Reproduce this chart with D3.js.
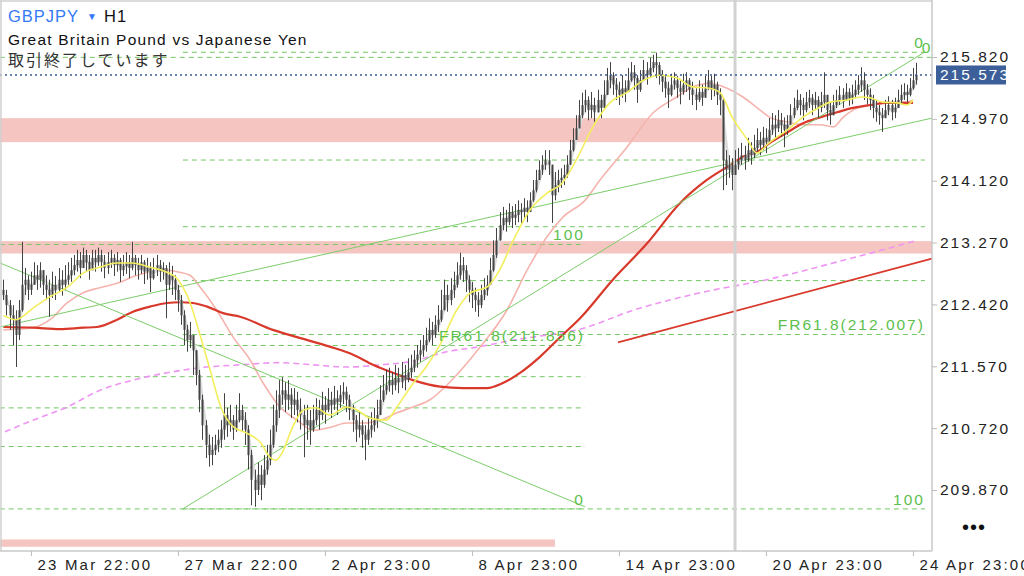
<!DOCTYPE html>
<html><head><meta charset="utf-8">
<script src="https://cdn.jsdelivr.net/npm/d3@7"></script>
<style>
html,body{margin:0;padding:0;background:#fff;}
svg{display:block;font-family:"Liberation Sans",Arial,sans-serif;}
</style></head><body>
<svg id="c" width="1024" height="576"></svg>
<script>
// ---------- DATA ----------
const firstOpen = 212.62;
const closes = [
212.55,212.41,212.27,212.21,212.00,212.34,212.69,212.76,212.62,212.69,
212.82,212.76,212.89,212.69,212.62,212.55,212.69,212.62,212.76,212.69,212.76,212.82,212.89,
212.96,213.03,212.92,213.10,213.00,212.89,213.06,213.00,213.10,213.00,
212.92,213.00,213.06,212.96,213.03,212.89,212.95,213.00,212.92,213.06,
212.96,212.89,213.00,212.87,212.92,212.78,212.89,212.96,212.87,212.92,212.69,212.82,212.76,
212.62,212.48,212.27,212.07,211.93,212.00,211.79,
211.45,211.11,210.76,210.49,210.35,210.42,
210.49,210.56,210.70,210.90,210.76,210.83,210.70,210.83,210.97,210.83,210.70,
210.35,210.01,209.87,210.08,209.94,210.15,210.28,
210.49,210.76,210.97,211.18,211.24,211.11,211.18,211.04,
211.11,210.97,210.90,210.76,210.83,210.70,210.83,
210.97,210.90,211.04,210.97,211.11,211.04,211.13,211.08,211.18,211.22,211.11,
210.97,210.83,210.70,210.76,210.63,210.56,210.70,210.76,210.83,210.90,
211.11,211.24,211.31,211.38,211.31,211.41,211.35,211.45,211.38,211.49,211.55,
211.66,211.73,211.79,211.86,211.93,212.07,212.00,212.14,212.21,212.34,212.55,
212.48,212.62,212.69,212.82,212.96,212.89,212.76,212.62,212.55,212.48,212.41,212.55,212.62,212.69,
212.89,213.10,213.30,213.51,213.61,213.55,213.69,213.61,213.65,213.72,213.69,213.75,213.69,
213.85,213.99,214.13,214.27,214.34,214.40,214.34,213.92,214.06,214.13,214.16,214.20,
214.34,214.54,214.68,214.84,215.02,215.16,215.23,215.09,215.16,215.06,215.23,215.12,215.30,215.50,215.57,
215.44,215.37,215.30,215.39,215.34,215.50,215.61,215.53,215.37,215.50,215.64,215.57,215.67,
215.75,215.71,215.57,215.48,215.39,215.30,215.44,215.50,215.39,215.34,215.44,215.50,215.37,
215.30,215.23,215.34,215.26,215.39,215.50,215.37,215.44,215.30,215.23,214.40,214.27,214.34,214.20,
214.34,214.40,214.47,214.40,214.54,214.47,214.57,214.68,214.61,214.71,214.65,214.82,214.89,214.84,214.95,214.89,214.82,
214.89,215.02,215.12,215.23,215.16,215.09,215.20,215.26,215.16,215.23,215.12,215.20,215.30,215.09,215.02,215.16,
215.23,215.30,215.23,215.34,215.26,215.30,215.37,215.44,215.50,215.37,215.30,215.23,215.12,215.06,
215.02,214.98,215.09,215.16,215.06,215.12,215.23,215.30,215.34,215.30,215.39,215.50,215.573
];
const highs = [
212.76,212.62,212.48,212.41,212.34,212.48,213.28,212.92,212.82,212.87,
213.00,212.96,213.00,212.89,212.82,212.76,212.87,212.81,212.92,212.89,212.96,213.00,213.06,
213.10,213.17,213.14,213.20,213.17,213.10,213.17,213.17,213.20,213.17,
213.10,213.14,213.17,213.11,213.14,213.06,213.10,213.14,213.10,213.28,
213.10,213.06,213.10,213.03,213.06,213.00,213.06,213.10,213.03,213.00,212.96,213.00,212.95,
212.82,212.69,212.55,212.34,212.14,212.18,212.00,
211.79,211.52,211.18,210.83,210.63,210.60,
210.63,210.70,210.83,211.20,211.00,211.04,210.90,211.04,211.20,211.04,210.94,
210.76,210.42,210.15,210.25,210.21,210.35,210.49,
210.70,211.04,211.24,211.38,211.42,211.35,211.38,211.27,
211.27,211.22,211.13,211.04,211.04,210.97,211.04,
211.13,211.11,211.22,211.16,211.27,211.22,211.30,211.24,211.31,211.35,211.29,
211.18,211.04,210.90,210.94,210.83,210.76,210.86,210.94,211.00,211.11,
211.31,211.45,211.52,211.55,211.49,211.59,211.55,211.63,211.59,211.68,211.73,
211.79,211.86,211.93,212.00,212.10,212.23,212.18,212.27,212.41,212.62,212.76,
212.69,212.78,212.87,213.00,213.13,213.07,212.96,212.82,212.73,212.65,212.59,212.69,212.78,212.82,
213.06,213.30,213.47,213.69,213.76,213.72,213.81,213.77,213.80,213.85,213.81,213.88,213.85,
213.96,214.13,214.27,214.40,214.47,214.54,214.54,214.34,214.24,214.27,214.29,214.34,
214.47,214.68,214.84,215.02,215.23,215.33,215.37,215.28,215.34,215.26,215.37,215.30,215.50,215.67,215.75,
215.61,215.53,215.48,215.57,215.50,215.67,215.75,215.71,215.57,215.64,215.78,215.75,215.81,
215.85,215.88,215.75,215.64,215.57,215.48,215.59,215.61,215.56,215.50,215.59,215.61,215.53,
215.48,215.39,215.50,215.44,215.56,215.64,215.56,215.59,215.48,215.39,215.26,214.54,214.47,214.43,
214.54,214.57,214.64,214.60,214.71,214.65,214.75,214.84,214.79,214.86,214.84,214.98,215.05,215.02,215.09,215.05,214.99,
215.02,215.17,215.26,215.37,215.31,215.26,215.34,215.37,215.31,215.34,215.28,215.34,215.61,215.30,215.20,215.30,
215.37,215.42,215.39,215.46,215.39,215.44,215.50,215.57,215.68,215.61,215.45,215.39,215.30,215.23,
215.16,215.12,215.23,215.28,215.23,215.26,215.37,215.44,215.46,215.44,215.53,215.67,215.74
];
const lows = [
212.48,212.27,212.07,211.86,211.56,211.93,212.32,212.55,212.48,212.55,
212.69,212.62,212.65,212.55,212.48,212.25,212.51,212.48,212.59,212.54,212.62,212.69,212.73,
212.82,212.87,212.78,212.92,212.87,212.76,212.89,212.87,212.95,212.87,
212.78,212.84,212.92,212.81,212.87,212.73,212.81,212.84,212.78,212.89,
212.82,212.76,212.84,212.70,212.76,212.59,212.76,212.81,212.73,212.76,212.23,212.62,212.55,
212.48,212.32,212.14,211.86,211.77,211.82,211.45,
211.31,210.94,210.56,210.31,210.19,210.21,
210.35,210.39,210.45,210.56,210.60,210.67,210.56,210.67,210.80,210.67,210.49,
210.15,209.66,209.64,209.80,209.73,209.90,210.08,
210.21,210.45,210.67,210.86,211.04,210.94,210.97,210.86,
210.90,210.80,210.70,210.32,210.56,210.49,210.67,
210.76,210.70,210.83,210.78,210.94,210.86,210.97,210.90,211.00,211.05,210.94,
210.83,210.67,210.53,210.59,210.45,210.28,210.49,210.59,210.67,210.72,
210.97,211.08,211.18,211.22,211.18,211.24,211.20,211.27,211.24,211.35,211.41,
211.49,211.55,211.63,211.70,211.77,211.90,211.86,211.96,212.04,212.18,212.34,
212.32,212.41,212.51,212.65,212.76,212.73,212.59,212.45,212.37,212.32,212.25,212.37,212.48,212.54,
212.69,212.87,213.06,213.33,213.44,213.42,213.51,213.47,213.51,213.55,213.52,213.58,213.55,
213.72,213.83,213.96,214.13,214.20,214.27,214.20,213.54,213.85,213.96,214.02,214.06,
214.16,214.38,214.52,214.68,214.89,214.98,215.06,214.95,214.98,214.93,215.06,214.98,215.12,215.34,215.39,
215.30,215.23,215.16,215.26,215.20,215.34,215.48,215.37,215.19,215.34,215.50,215.44,215.53,
215.61,215.53,215.44,215.34,215.26,215.12,215.28,215.37,215.26,215.17,215.30,215.34,215.23,
215.16,215.09,215.20,215.15,215.26,215.37,215.23,215.28,215.16,215.02,213.99,214.06,214.16,213.99,
214.20,214.27,214.34,214.27,214.38,214.34,214.43,214.52,214.47,214.54,214.50,214.68,214.75,214.71,214.79,214.72,214.58,
214.75,214.89,214.98,215.09,215.02,214.95,215.06,215.12,215.02,215.09,214.98,215.06,215.12,214.95,214.89,215.02,
215.12,215.16,215.12,215.23,215.15,215.17,215.26,215.30,215.34,215.23,215.17,215.09,214.98,214.93,
214.89,214.79,214.98,215.02,214.95,214.98,215.12,215.17,215.23,215.20,215.28,215.37,215.44
];

const xTickIndex = [9, 57, 105, 153, 201, 249, 297];
const xTickLabels = ["23 Mar 22:00","27 Mar 22:00","2 Apr 23:00","8 Apr 23:00","14 Apr 23:00","20 Apr 23:00","24 Apr 23:00"];
const yTicks = [215.820, 214.970, 214.120, 213.270, 212.420, 211.570, 210.720, 209.870];
const lastPrice = 215.573;

// moving averages: [bar index, price]
const maYellow = [[0,212.27],[4,212.21],[10,212.38],[15,212.52],[21,212.66],[26,212.85],[31.5,212.93],[37,212.99],[42,212.99],[48,212.93],[53,212.87],[57,212.76],[61,212.44],[64,212.03],[67.5,211.52],[71,211.01],[75,210.74],[79.5,210.65],[84,210.52],[87,210.32],[89,210.28],[91,210.38],[94.5,210.74],[98,210.97],[102,211.00],[106.5,210.90],[112,211.01],[115.5,210.97],[119.5,210.86],[125,210.83],[128.5,211.01],[133,211.29],[138,211.56],[142.5,211.86],[148,212.34],[152.5,212.58],[158,212.66],[162,212.89],[166.5,213.30],[172,213.72],[177.5,213.95],[182.5,214.09],[187,214.40],[192.5,214.86],[198,215.19],[203.5,215.33],[209,215.50],[214.5,215.57],[220,215.53],[225,215.41],[230.5,215.39],[234,215.33],[238,214.99],[243,214.68],[246,214.50],[250,214.64],[256,214.82],[261,214.99],[266.5,215.13],[270,215.20],[275.5,215.23],[280,215.27],[283,215.26],[287,215.20],[292,215.19],[295,215.16],[297,215.23]];
const maPink = [[0,212.07],[9.7,212.10],[15.2,212.21],[20.8,212.44],[26,212.58],[31.5,212.65],[37.1,212.71],[42.3,212.80],[47.9,212.87],[53.4,212.89],[56.7,212.87],[60.9,212.82],[64.2,212.66],[69.7,212.34],[75,211.97],[80.5,211.66],[84.8,211.34],[90.3,211.01],[95.9,210.83],[101.1,210.69],[106.6,210.73],[112.2,210.79],[117.4,210.79],[123,210.83],[128.5,210.93],[133.7,211.01],[139.3,211.11],[144.8,211.31],[155.6,211.83],[164.4,212.34],[171,212.89],[177.5,213.35],[182.7,213.62],[189.9,213.85],[194.8,214.13],[203.6,214.58],[212.1,215.05],[219.9,215.27],[225.2,215.41],[230.7,215.46],[236.3,215.39],[241.5,215.27],[247.1,215.09],[250.3,214.99],[255.8,214.93],[261.1,214.89],[266.7,214.89],[271,214.86],[274.2,214.99],[277.4,215.09],[283,215.16],[288.5,215.19],[295,215.20],[297,215.23]];
const maRed = [[0,212.11],[9.7,212.10],[18.5,212.08],[26,212.10],[30.6,212.11],[37.1,212.21],[42.3,212.32],[47.9,212.39],[53.4,212.44],[57.7,212.45],[61.9,212.44],[66.5,212.39],[71.7,212.30],[77.3,212.25],[88,212.07],[95.9,211.97],[106.6,211.84],[114.2,211.73],[120.7,211.59],[127.2,211.48],[133.7,211.38],[142.6,211.29],[150.1,211.27],[157.9,211.27],[163.1,211.34],[168.7,211.48],[175.2,211.70],[181.8,211.97],[188.3,212.23],[199,212.76],[210.2,213.26],[220.9,213.81],[229.7,214.13],[236.3,214.31],[241.5,214.45],[247.1,214.54],[250.3,214.64],[255.8,214.78],[261.1,214.91],[266.7,214.99],[272.2,215.06],[277.4,215.12],[283,215.16],[288.5,215.19],[293.7,215.19],[297,215.19]];
const maViolet = [[0.5,210.67],[9.7,210.83],[20.8,211.01],[31.5,211.24],[42.3,211.38],[53.4,211.48],[64.2,211.55],[77.3,211.59],[90.3,211.62],[101.1,211.59],[112.2,211.56],[123,211.59],[133.7,211.64],[144.8,211.77],[155.6,211.84],[166.4,211.93],[177.5,212.00],[188.3,212.08],[205.6,212.34],[227.5,212.58],[249.3,212.76],[271,212.99],[295,213.26],[297.6,213.29]];

// drawn objects (bar index, price)
const zones = [
  {from:-1.2, to:235.6, top:214.98, bottom:214.65},
  {from:-1.2, to:303.3, top:213.29, bottom:213.12},
  {from:-1.2, to:180.1, top:209.19, bottom:209.09}
];
const fibRatios = [0, 23.6, 38.2, 50, 61.8, 100];
const fibs = [
  {from:-1.2, to:189.9, p0:209.610, p100:213.244, labels:{0:"0", 61.8:"FR61.8(211.856)", 100:"100"}},
  {from:58.6, to:300.9, p0:215.885, p100:209.610, labels:{0:"0", 61.8:"FR61.8(212.007)", 100:"100"}}
];
const extraLevels = [{price:215.815, from:-1.2, to:303.3, label:"0"}];
const trendLines = [
  [[-1.1,212.99],[189.9,209.64]],
  [[-1.1,212.11],[303.2,214.98]],
  [[58.6,209.61],[300.9,215.89]]
];
const redTrend = [[200.7,211.90],[303.2,213.05]];
const markerIndex = 238.9;

// ---------- CHART ----------
const svg = d3.select("#c");
const W = 932, H = 551;
const x = d3.scaleLinear().domain([0, 298]).range([3.4, 3.4 + 298 * 3.0625]);
const y = d3.scaleLinear().domain([209.87, 215.82]).range([490, 57]);

svg.append("defs").append("clipPath").attr("id","clip")
  .append("rect").attr("x",0).attr("y",0).attr("width",W).attr("height",H);
const plot = svg.append("g").attr("clip-path","url(#clip)");

// zones
plot.selectAll("rect.zone").data(zones).join("rect").attr("class","zone")
  .attr("x", d => x(d.from)).attr("width", d => x(d.to) - x(d.from))
  .attr("y", d => y(d.top)).attr("height", d => y(d.bottom) - y(d.top))
  .attr("fill", "#f5c5c1");

// fib levels
const green = "#72c862";
const fibLines = [];
fibs.forEach(f => fibRatios.forEach(r => {
  const p = f.p0 + (f.p100 - f.p0) * r / 100;
  fibLines.push({from:f.from, to:f.to, price:p, label:f.labels[r]});
}));
extraLevels.forEach(e => fibLines.push(e));
plot.selectAll("line.fib").data(fibLines).join("line").attr("class","fib")
  .attr("x1", d => x(d.from)).attr("x2", d => x(d.to))
  .attr("y1", d => y(d.price)).attr("y2", d => y(d.price))
  .attr("stroke", green).attr("stroke-width", 1).attr("stroke-dasharray","5,4");

const line = d3.line().x(d => x(d[0])).y(d => y(d[1])).curve(d3.curveMonotoneX);

// violet long MA
plot.append("path").datum(maViolet).attr("d", line).attr("fill","none")
  .attr("stroke","#ee94f2").attr("stroke-width",1.6).attr("stroke-dasharray","6,4");
// pink MA
plot.append("path").datum(maPink).attr("d", line).attr("fill","none")
  .attr("stroke","#f5b4ad").attr("stroke-width",1.6);
// red MA
plot.append("path").datum(maRed).attr("d", line).attr("fill","none")
  .attr("stroke","#d8392b").attr("stroke-width",2.2);

// trend lines
plot.selectAll("line.tl").data(trendLines).join("line").attr("class","tl")
  .attr("x1", d => x(d[0][0])).attr("y1", d => y(d[0][1]))
  .attr("x2", d => x(d[1][0])).attr("y2", d => y(d[1][1]))
  .attr("stroke","#7ccc6a").attr("stroke-width",1);
plot.append("line")
  .attr("x1", x(redTrend[0][0])).attr("y1", y(redTrend[0][1]))
  .attr("x2", x(redTrend[1][0])).attr("y2", y(redTrend[1][1]))
  .attr("stroke","#d8392b").attr("stroke-width",1.8);

// vertical marker
plot.append("line").attr("x1", x(markerIndex)).attr("x2", x(markerIndex))
  .attr("y1", 0).attr("y2", H).attr("stroke","#d2d2d2").attr("stroke-width",3);

// candles
const candles = closes.map((c, i) => {
  const o = i === 0 ? firstOpen : closes[i-1];
  return {i, o, c, h: Math.max(highs[i], o, c), l: Math.min(lows[i], o, c)};
});
// short MA (3 bars) of closes
const maGrey = candles.map((d, i) => {
  const s = closes.slice(Math.max(0, i-2), i+1);
  return [i, d3.mean(s)];
});
plot.append("path").datum(maGrey).attr("d", line).attr("fill","none")
  .attr("stroke","#dcdcdc").attr("stroke-width",3);

const cg = plot.append("g");
cg.selectAll("line").data(candles).join("line")
  .attr("x1", d => Math.round(x(d.i)) + 0.5).attr("x2", d => Math.round(x(d.i)) + 0.5)
  .attr("y1", d => y(d.h)).attr("y2", d => y(d.l))
  .attr("stroke","#444").attr("stroke-width",1);
cg.selectAll("rect").data(candles).join("rect")
  .attr("x", d => Math.round(x(d.i)) - 0.5).attr("width", 2)
  .attr("y", d => y(Math.max(d.o, d.c)))
  .attr("height", d => Math.max(1, Math.abs(y(d.o) - y(d.c))))
  .attr("fill","#444");

// yellow MA
plot.append("path").datum(maYellow).attr("d", line).attr("fill","none")
  .attr("stroke","#f3ef5c").attr("stroke-width",1.6);

// last price line
plot.append("line").attr("x1",0).attr("x2",W).attr("y1",y(lastPrice)).attr("y2",y(lastPrice))
  .attr("stroke","#3a5b98").attr("stroke-width",1.5).attr("stroke-dasharray","2,3");

// fib labels
const labFont = 15.5;
plot.selectAll("text.fl").data(fibLines.filter(d => d.label)).join("text").attr("class","fl")
  .attr("x", d => x(d.to)).attr("y", d => y(d.price) - 4)
  .attr("text-anchor","end").attr("font-size",labFont).attr("letter-spacing","2px")
  .attr("fill","#5cbf4c").text(d => d.label);

// frame
svg.append("line").attr("x1",1).attr("x2",1).attr("y1",0).attr("y2",H).attr("stroke","#d0d0d0").attr("stroke-width",1.5);
svg.append("line").attr("x1",0).attr("x2",W).attr("y1",1).attr("y2",1).attr("stroke","#d0d0d0").attr("stroke-width",1.5);
svg.append("line").attr("x1",W).attr("x2",W).attr("y1",0).attr("y2",H).attr("stroke","#c8c8c8").attr("stroke-width",1.5);
svg.append("line").attr("x1",0).attr("x2",W).attr("y1",H).attr("y2",H).attr("stroke","#c8c8c8").attr("stroke-width",1.5);

// y axis
const ya = svg.append("g").attr("transform",`translate(${W},0)`)
  .call(d3.axisRight(y).tickValues(yTicks).tickSize(5).tickFormat(d3.format(".3f")));
ya.select(".domain").remove();
ya.selectAll(".tick line").attr("stroke","#bdbdbd");
ya.selectAll(".tick text").attr("x",8).attr("font-size",15.5).attr("letter-spacing","2px")
  .attr("fill","#222").attr("font-family","Liberation Sans, Arial, sans-serif");

// x axis
const xa = svg.append("g").attr("transform",`translate(0,${H})`)
  .call(d3.axisBottom(x).tickValues(xTickIndex).tickSize(5).tickFormat((d,i) => xTickLabels[i]));
xa.select(".domain").remove();
xa.selectAll(".tick line").attr("stroke","#bdbdbd");
xa.selectAll(".tick text").attr("text-anchor","start").attr("x",6).attr("font-size",15)
  .attr("letter-spacing","2.2px").attr("fill","#222").attr("font-family","Liberation Sans, Arial, sans-serif");

// last price tag
svg.append("rect").attr("x",936).attr("y",y(lastPrice)-9.5).attr("width",70).attr("height",19).attr("fill","#3d5f99");
svg.append("text").attr("x",940).attr("y",y(lastPrice)).attr("dy","0.35em").attr("font-size",15.5)
  .attr("letter-spacing","2px").attr("fill","#fff").text(d3.format(".3f")(lastPrice));

// header
const hdr = svg.append("text").attr("x",8).attr("y",22).attr("font-size",16.5).attr("letter-spacing","1px");
hdr.append("tspan").attr("fill","#3478f6").text("GBPJPY");
hdr.append("tspan").attr("fill","#3478f6").attr("font-size",10).attr("dx",8).attr("dy",-2).text("▼");
hdr.append("tspan").attr("fill","#111").attr("dx",6).attr("dy",2).text("H1");
svg.append("text").attr("x",8).attr("y",45).attr("font-size",15.5).attr("letter-spacing","1.2px")
  .attr("fill","#111").text("Great Britain Pound vs Japanese Yen");
svg.append("text").attr("x",8).attr("y",66).attr("font-size",16).attr("letter-spacing","2px")
  .attr("font-family","'Noto Sans CJK JP', sans-serif").attr("fill","#333").text("取引終了しています");

// more menu
svg.append("text").attr("x",962).attr("y",534).attr("font-size",20).attr("letter-spacing","1px")
  .attr("fill","#111").text("•••");
</script>
</body></html>
